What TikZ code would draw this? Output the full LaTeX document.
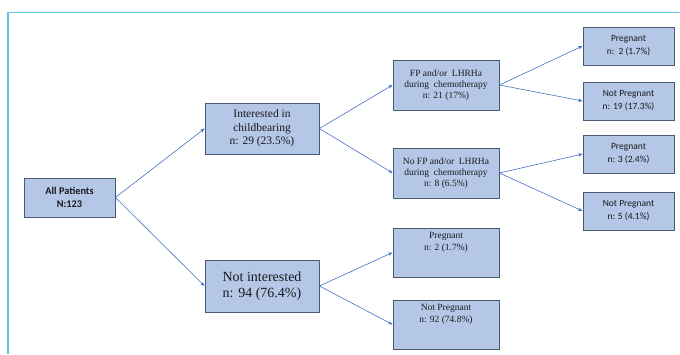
\documentclass[tikz,border=0pt]{standalone}
\usepackage{fontspec}
\setmainfont{Liberation Serif}
\newfontfamily\fcsans{Carlito}
\usepackage{xcolor}
\definecolor{fcfill}{HTML}{B4C7E7}
\definecolor{fcedge}{HTML}{4A5A72}
\definecolor{fcline}{HTML}{4472C4}
\definecolor{fcframe}{HTML}{5BC5E3}
\definecolor{fcink}{HTML}{1A1A1A}
\usepackage{tikz}
\usetikzlibrary{arrows.meta,positioning}
\tikzset{
  fcbox/.style   ={rectangle, draw=fcedge, fill=fcfill, line width=0.8pt,
                   minimum width=106pt, minimum height=50pt, inner sep=3pt,
                   align=center, text=fcink, font=\fontsize{9.5}{10.8}\selectfont},
  fcmid/.style   ={fcbox, minimum width=114pt, minimum height=51pt},
  fcleaf/.style  ={fcbox, minimum width=91pt, minimum height=38pt,
                   font=\fcsans\fontsize{9.5}{13}\selectfont},
  fctop/.style   ={fcbox, minimum height=49pt, text depth=22pt,
                   font=\fontsize{9.5}{12.5}\selectfont},
  fcarrow/.style ={-{Stealth[length=4.5pt,width=3.5pt]}, line width=0.6pt, draw=fcline},
}
\begin{document}
\begin{tikzpicture}[x=1pt,y=-1pt]
  \useasboundingbox (0,0) rectangle (680,354);
  \draw[fcframe, line width=1.5pt] (8,354) -- (8,12.5) -- (680,12.5);
  % root and first split
  \node[fcbox, minimum width=91pt, minimum height=39pt,
        font=\fcsans\bfseries\fontsize{10.3}{13}\selectfont]
       (all) at (69.5,197.5) {All Patients\\N:123};
  \node[fcmid, font=\fontsize{11.5}{13.5}\selectfont]
       (int) at (262,128.5) {Interested in\\childbearing\\n: 29 (23.5\%)};
  \node[fcmid, minimum height=52pt, font=\fontsize{14}{16.5}\selectfont]
       (notint) at (262,286) {Not interested\\n: 94 (76.4\%)};
  \draw[fcarrow] (all.east) -- (int.west);
  \draw[fcarrow] (all.east) -- (notint.west);
  % interested branch
  \node[fcbox] (fp) at (446,85)
       {FP and/or\ \ LHRHa\\during\ \ chemotherapy\\n: 21 (17\%)};
  \node[fcbox] (nofp) at (446,173)
       {No FP and/or\ \ LHRHa\\during\ \ chemotherapy\\n: 8 (6.5\%)};
  \draw[fcarrow] (int.east) -- (fp.west);
  \draw[fcarrow] (int.east) -- (nofp.west);
  % not interested branch
  \node[fctop] (preg) at (446,252.5) {Pregnant\\n: 2 (1.7\%)};
  \node[fctop] (notpreg) at (446,324.5) {Not Pregnant\\n: 92 (74.8\%)};
  \draw[fcarrow] (notint.east) -- (preg.west);
  \draw[fcarrow] (notint.east) -- (notpreg.west);
  % outcomes
  \node[fcleaf] (fppreg) at (628.5,46) {Pregnant\\n:\ \ 2 (1.7\%)};
  \node[fcleaf] (fpnot) at (628.5,101) {Not Pregnant\\n: 19 (17.3\%)};
  \node[fcleaf] (nofppreg) at (628.5,154) {Pregnant\\n: 3 (2.4\%)};
  \node[fcleaf] (nofpnot) at (628.5,211) {Not Pregnant\\n: 5 (4.1\%)};
  \draw[fcarrow] (fp.east) -- (fppreg.west);
  \draw[fcarrow] (fp.east) -- (fpnot.west);
  \draw[fcarrow] (nofp.east) -- (nofppreg.west);
  \draw[fcarrow] (nofp.east) -- (nofpnot.west);
\end{tikzpicture}
\end{document}
